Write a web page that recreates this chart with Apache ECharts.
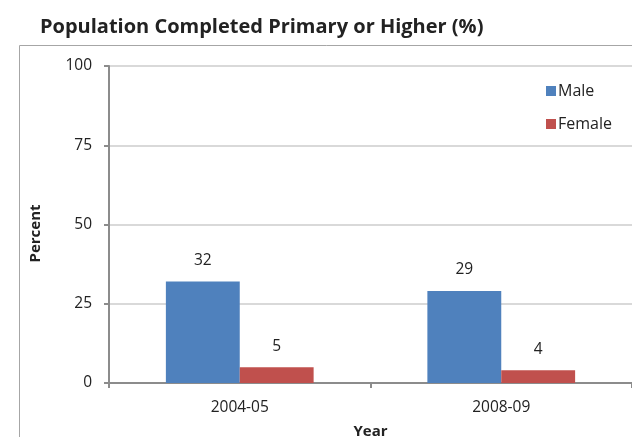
<!DOCTYPE html>
<html>
<head>
<meta charset="utf-8">
<script src="https://cdn.jsdelivr.net/npm/echarts@6/dist/echarts.min.js"></script>
<style>html,body{margin:0;padding:0;background:#fff}#c{width:632px;height:437px}</style>
</head>
<body>
<div id="c"></div>
<script>
const categories = ["2004-05", "2008-09"];
const maleValues = [32, 29];
const femaleValues = [5, 4];
const yTicks = [0, 25, 50, 75, 100];

const chart = echarts.init(document.getElementById('c'), null, {renderer: 'canvas'});
const font = "'Open Sans', 'Liberation Sans', sans-serif";
chart.setOption({
  animation: false,
  textStyle: {fontFamily: font},
  title: {
    text: "Population Completed Primary or Higher (%)",
    left: 35, top: 12,
    textStyle: {fontSize: 20, fontWeight: 'bold', color: '#222', fontFamily: font}
  },
  graphic: [{
    type: 'rect', left: 17, top: 43, shape: {width: 700, height: 500},
    style: {fill: 'none', stroke: '#a6a6a6', lineWidth: 1}
  }],
  legend: {
    orient: 'vertical', left: 541, top: 78,
    itemWidth: 10, itemHeight: 10, itemGap: 17, icon: 'rect',
    textStyle: {fontSize: 16, color: '#222', fontFamily: font, padding: [0,0,0,-3]},
    data: ['Male', 'Female']
  },
  grid: {left: 109, right: 0, top: 66, bottom: 54, containLabel: false, outerBoundsMode: 'none'},
  xAxis: {
    type: 'category', data: categories,
    name: 'Year', nameLocation: 'middle', nameGap: 41,
    nameTextStyle: {fontSize: 15, fontWeight: 'bold', color: '#222'},
    axisLine: {lineStyle: {color: '#8c8c8c', width: 2}},
    axisTick: {show: true, length: 5, lineStyle: {color: '#8c8c8c', width: 2}},
    axisLabel: {fontSize: 15.5, color: '#222', margin: 17}
  },
  yAxis: {
    type: 'value', min: yTicks[0], max: yTicks[yTicks.length-1], interval: 25,
    name: 'Percent', nameLocation: 'middle', nameGap: 66, nameRotate: 90,
    nameTextStyle: {fontSize: 15, fontWeight: 'bold', color: '#222', padding: [0, 18, 0, 0]},
    axisLine: {show: true, lineStyle: {color: '#8c8c8c', width: 2}},
    axisTick: {show: true, length: 5, lineStyle: {color: '#8c8c8c', width: 2}},
    axisLabel: {fontSize: 15.5, color: '#222', margin: 17},
    splitLine: {lineStyle: {color: '#d9d9d9', width: 2}}
  },
  series: [
    {name: 'Male', type: 'bar', data: maleValues, barGap: '0%', barCategoryGap: '43.5%',
     itemStyle: {color: '#4f81bd'},
     label: {show: true, position: 'top', distance: 13, fontSize: 15.5, color: '#222'}},
    {name: 'Female', type: 'bar', data: femaleValues,
     itemStyle: {color: '#c0504d'},
     label: {show: true, position: 'top', distance: 13, fontSize: 15.5, color: '#222'}}
  ]
});
</script>
</body>
</html>
